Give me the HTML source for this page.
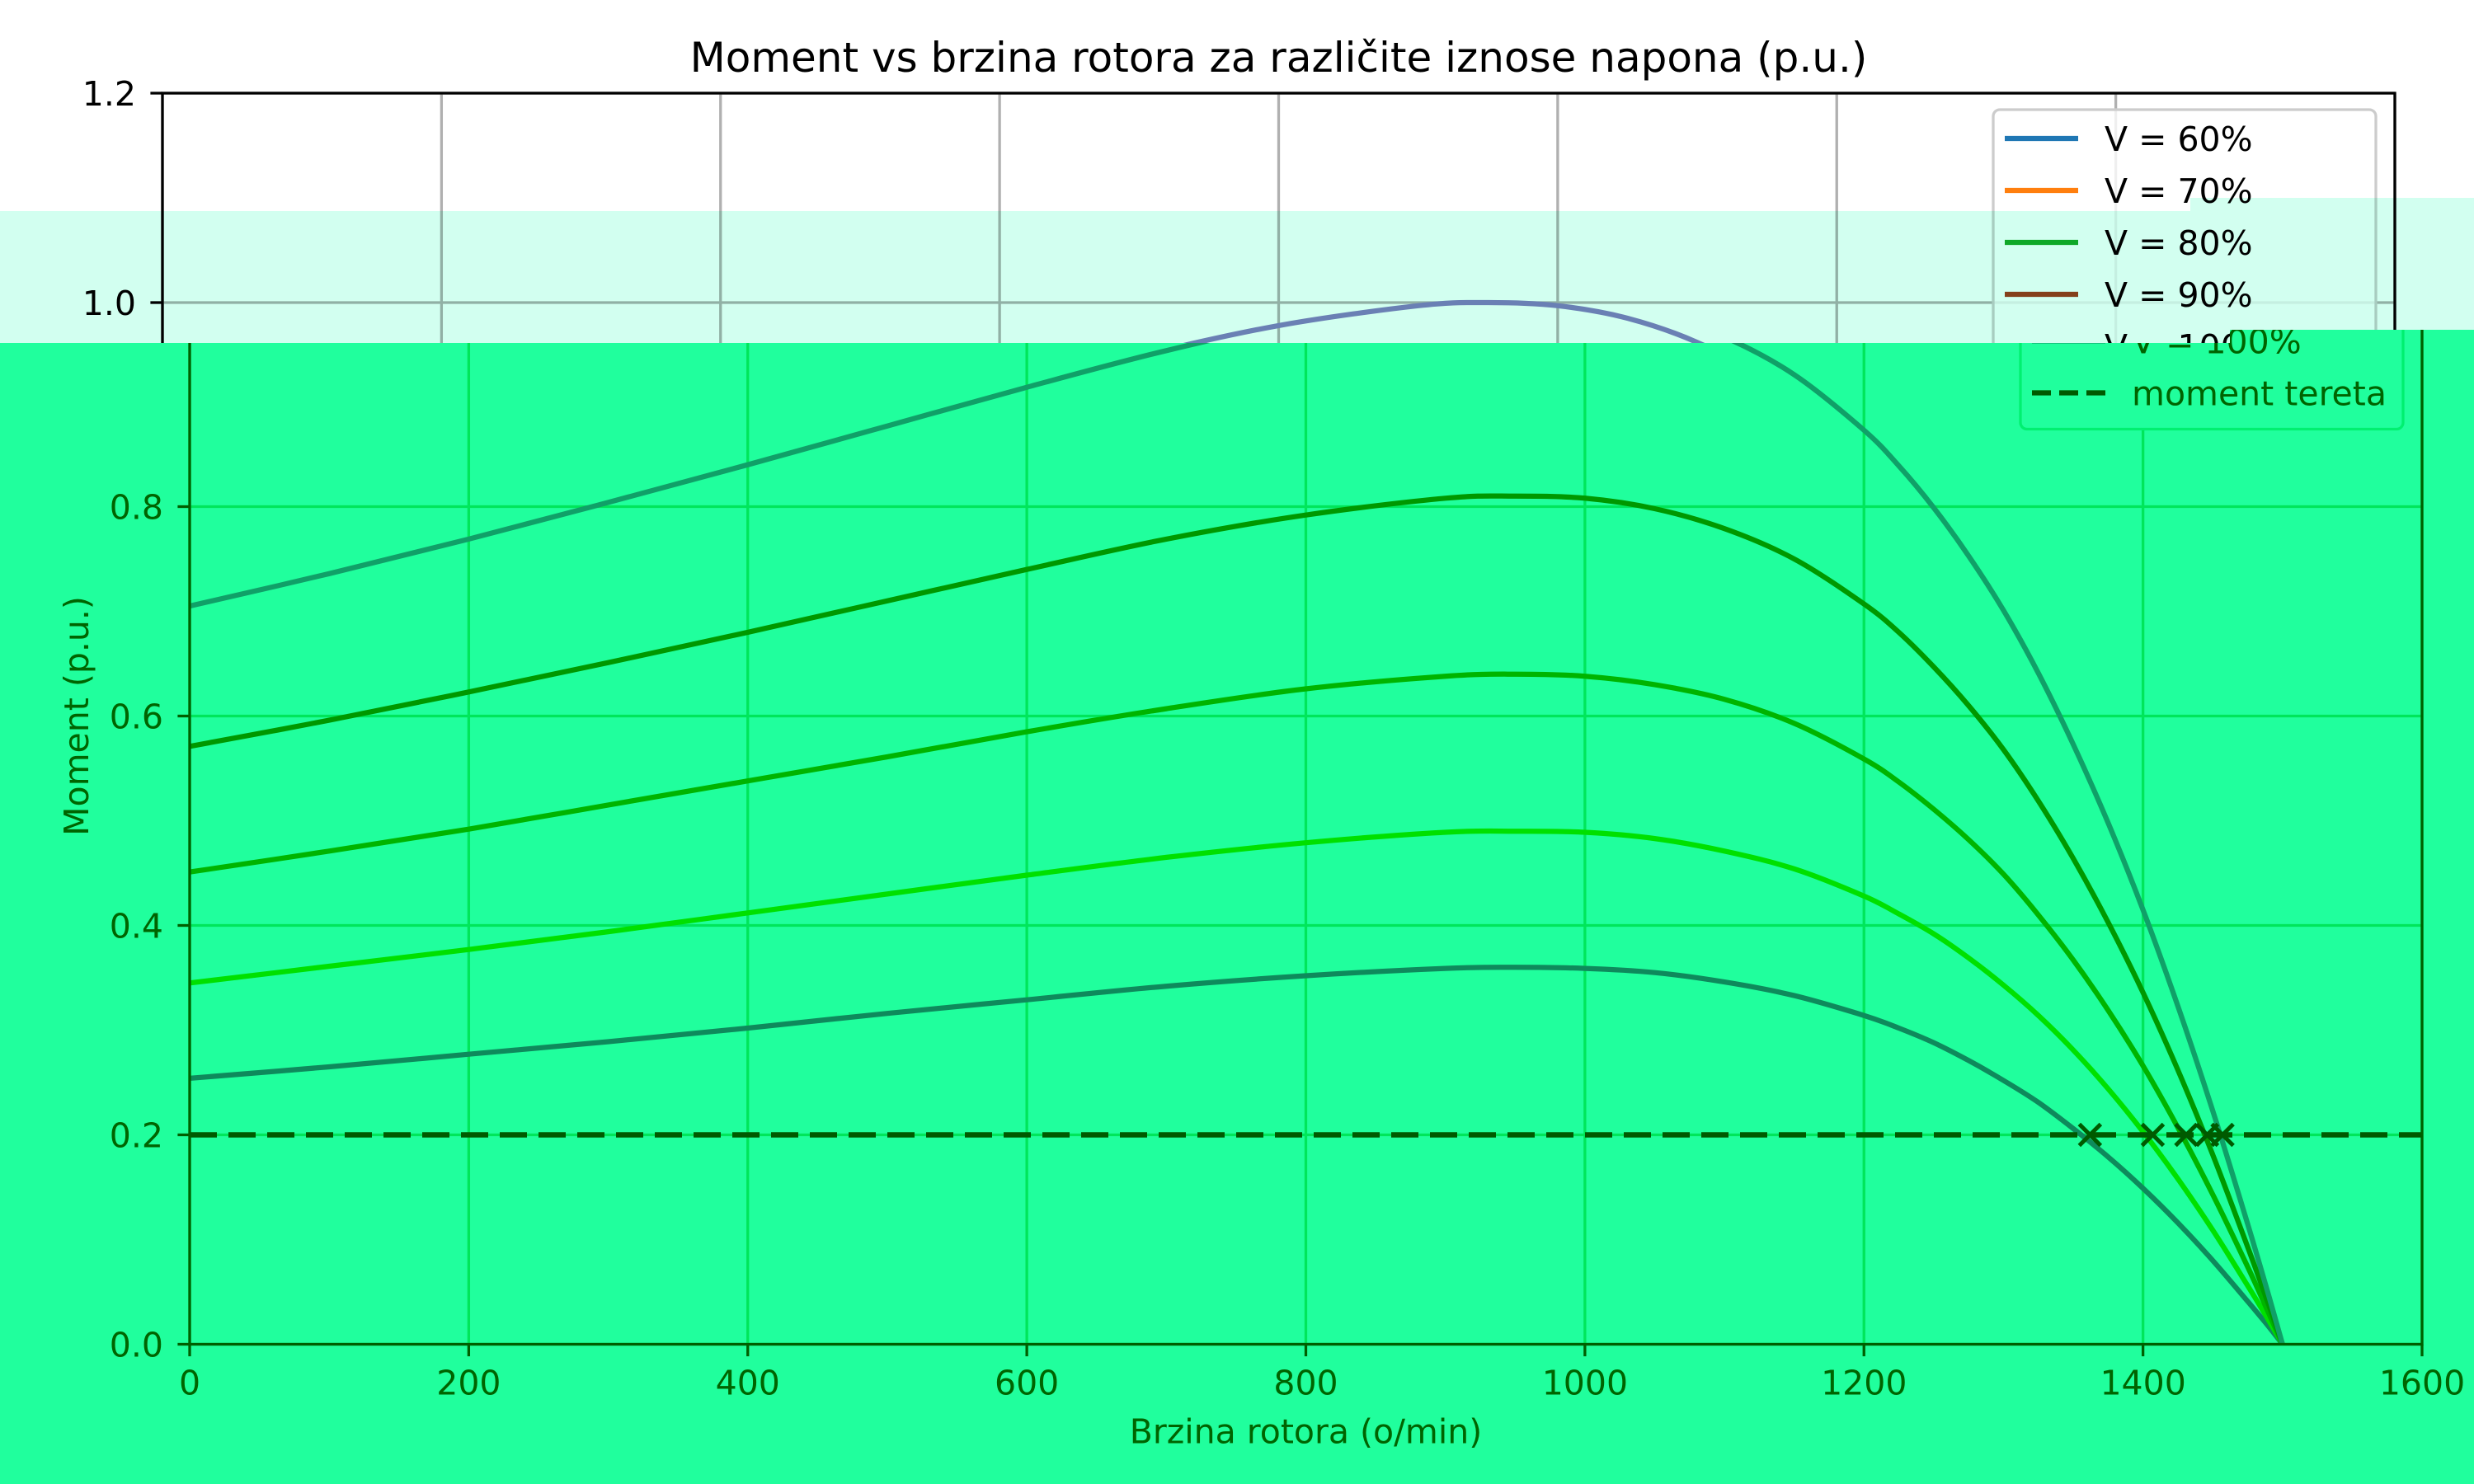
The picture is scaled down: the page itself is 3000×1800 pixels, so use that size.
<!DOCTYPE html>
<html><head><meta charset="utf-8"><style>
html,body{margin:0;padding:0;background:#fff;}
svg{display:block;font-family:"DejaVu Sans","Liberation Sans",sans-serif;}
</style></head><body>
<svg id="chart" width="3000" height="1800" viewBox="0 0 3000 1800" xmlns="http://www.w3.org/2000/svg">
<defs>
<clipPath id="clipUpper"><polygon points="0,0 3000,0 3000,400 2704,400 2704,416 0,416"/></clipPath>
<clipPath id="clipLower"><polygon points="0,416 2704,416 2704,400 3000,400 3000,1800 0,1800"/></clipPath>
<clipPath id="plotClip"><rect x="197" y="113" width="2707" height="1524"/></clipPath>
</defs>
<rect x="0" y="0" width="3000" height="1800" fill="#ffffff"/>
<g id="upper" clip-path="url(#clipUpper)"></g>
<g style="mix-blend-mode:multiply">
<rect x="0" y="256" width="2656" height="160" fill="#d2fff0"/>
<rect x="2656" y="240" width="344" height="160" fill="#d2fff0"/>
<rect x="2656" y="400" width="48" height="16" fill="#d2fff0"/>
</g>
<g clip-path="url(#clipLower)">
<rect x="0" y="0" width="3000" height="1800" fill="#20ff9d"/>
<g id="lower" transform="translate(33,-6.5)"></g>
</g>
</svg>
<script>
const speeds = [0,100,200,300,400,500,600,700,800,900,950,1000,1050,1100,1150,1200,1225,1250,1275,1300,1325,1350,1375,1400,1425,1450,1475,1490,1500];
const v100 = [0.705,0.736,0.769,0.804,0.840,0.877,0.914,0.949,0.978,0.997,1.000,0.997,0.985,0.962,0.926,0.873,0.839,0.799,0.753,0.701,0.641,0.573,0.498,0.415,0.323,0.223,0.115,0.047,0];
const v90 = [0.571,0.596,0.623,0.651,0.680,0.710,0.740,0.769,0.792,0.808,0.810,0.808,0.798,0.779,0.750,0.707,0.680,0.647,0.610,0.568,0.519,0.464,0.403,0.336,0.262,0.181,0.093,0.038,0];
const v80 = [0.451,0.471,0.492,0.515,0.538,0.561,0.585,0.607,0.626,0.638,0.640,0.638,0.630,0.616,0.593,0.559,0.537,0.511,0.482,0.449,0.410,0.367,0.319,0.266,0.207,0.143,0.074,0.030,0];
const v70 = [0.345,0.361,0.377,0.394,0.412,0.430,0.448,0.465,0.479,0.489,0.490,0.489,0.483,0.471,0.454,0.428,0.411,0.392,0.369,0.343,0.314,0.281,0.244,0.203,0.158,0.109,0.056,0.023,0];
const v60 = [0.254,0.265,0.277,0.289,0.302,0.316,0.329,0.342,0.352,0.359,0.360,0.359,0.355,0.346,0.333,0.314,0.302,0.288,0.271,0.252,0.231,0.206,0.179,0.149,0.116,0.080,0.041,0.017,0];
const seriesLabels = ["V = 60%","V = 70%","V = 80%","V = 90%","V = 100%"];
const loadTorque = 0.2;
const crossSpeeds = [1362,1407,1431,1446,1457];
const xTicks = [0,200,400,600,800,1000,1200,1400,1600];
const yTicks = [0.0,0.2,0.4,0.6,0.8,1.0,1.2];
const yTickLabels = ["0.0","0.2","0.4","0.6","0.8","1.0","1.2"];
const allSeries = [v60,v70,v80,v90,v100];

const NS = "http://www.w3.org/2000/svg";
const X0=197, X1=2904, Y0=1637, Y1=113;
function xs(v){return X0+(v-0)/(1600-0)*(X1-X0);}
function ys(v){return Y0-(v-0)/(1.2-0)*(Y0-Y1);}
function mk(tag,attrs,parent){const e=document.createElementNS(NS,tag);for(const k in attrs)e.setAttribute(k,attrs[k]);parent.appendChild(e);return e;}
function smoothPath(P){
  let d='M'+P[0][0].toFixed(1)+','+P[0][1].toFixed(1);
  for(let i=0;i<P.length-1;i++){
    const p0=P[Math.max(i-1,0)],p1=P[i],p2=P[i+1],p3=P[Math.min(i+2,P.length-1)];
    const c1=[p1[0]+(p2[0]-p0[0])/6,p1[1]+(p2[1]-p0[1])/6];
    const c2=[p2[0]-(p3[0]-p1[0])/6,p2[1]-(p3[1]-p1[1])/6];
    d+='C'+c1[0].toFixed(1)+','+c1[1].toFixed(1)+' '+c2[0].toFixed(1)+','+c2[1].toFixed(1)+' '+p2[0].toFixed(1)+','+p2[1].toFixed(1);
  }
  return d;
}

function draw(root, th){
  const FS=41;
  const grid=mk('g',{},root);
  
  
  xTicks.forEach(t=>{mk('line',{x1:xs(t),x2:xs(t),y1:Y1,y2:Y0,stroke:th.grid,'stroke-width':3.3},grid);});
  yTicks.forEach(t=>{mk('line',{x1:X0,x2:X1,y1:ys(t),y2:ys(t),stroke:th.grid,'stroke-width':3.3},grid);});
  const plot=mk('g',{'clip-path':'url(#plotClip)'},root);
  allSeries.forEach((s,i)=>{
    const P=s.map((v,j)=>[xs(speeds[j]),ys(v)]);
    const pl=mk('path',{d:smoothPath(P),fill:'none',stroke:th.series[i],'stroke-width':6.25,'stroke-linejoin':'round'},plot);
    
    
  });
  const ld=mk('line',{x1:X0,x2:X1,y1:ys(loadTorque),y2:ys(loadTorque),stroke:th.load,'stroke-width':6.5,'stroke-dasharray':'33 14'},plot);
  
  
  crossSpeeds.forEach(c=>{
    const cx=xs(c), cy=ys(loadTorque), r=13;
    const m=mk('path',{d:`M${cx-r},${cy-r}L${cx+r},${cy+r}M${cx-r},${cy+r}L${cx+r},${cy-r}`,stroke:th.load,'stroke-width':5,fill:'none'},plot);
    
    
  });
  const sp=mk('rect',{x:X0,y:Y1,width:X1-X0,height:Y0-Y1,fill:'none',stroke:th.spine,'stroke-width':3.3},root);
  
  
  xTicks.forEach(t=>{
    mk('line',{x1:xs(t),x2:xs(t),y1:Y0,y2:Y0+14.6,stroke:th.spine,'stroke-width':3.3},root);
    const tx=mk('text',{x:xs(t),y:1698,'text-anchor':'middle','font-size':FS,fill:th.text},root);
    tx.textContent=String(t);
    
    
  });
  yTicks.forEach((t,i)=>{
    mk('line',{x1:X0-14.6,x2:X0,y1:ys(t),y2:ys(t),stroke:th.spine,'stroke-width':3.3},root);
    const tx=mk('text',{x:165,y:ys(t)+15,'text-anchor':'end','font-size':FS,fill:th.text},root);
    tx.textContent=yTickLabels[i];
    
    
  });
  const xl=mk('text',{x:(X0+X1)/2,y:1757,'text-anchor':'middle','font-size':FS,fill:th.text},root);
  xl.textContent='Brzina rotora (o/min)';
  
  
  const yl=mk('text',{x:0,y:0,'text-anchor':'middle','font-size':FS,fill:th.text,transform:'translate(74,875) rotate(-90)'},root);
  yl.textContent='Moment (p.u.)';
  
  
  const ti=mk('text',{x:(X0+X1)/2,y:87,'text-anchor':'middle','font-size':50,fill:th.text},root);
  ti.textContent='Moment vs brzina rotora za različite iznose napona (p.u.)';
  
  
  const lg=mk('g',{},root);
  
  
  mk('rect',{x:2417,y:133,width:464,height:394,rx:8,fill:th.legendBg,'fill-opacity':th.legendOp,stroke:th.legendEdge,'stroke-width':3.3},lg);
  const labels=seriesLabels.concat(['moment tereta']);
  labels.forEach((lab,i)=>{
    const y=168+i*63;
    const col=i<5?th.series[i]:th.load;
    const ln=mk('line',{x1:2431,x2:2520,y1:y,y2:y,stroke:col,'stroke-width':6.25},lg);
    if(i==5) ln.setAttribute('stroke-dasharray','23 10');
    const tx=mk('text',{x:2552,y:y+15,'font-size':FS,fill:th.text},lg);
    tx.textContent=lab;
    
    
  });
}
draw(document.getElementById('upper'),{grid:'#b0b0b0',spine:'#000000',text:'#000000',series:['#1f77b4','#ff7f0e','#12a82a','#a0401c','#8180bf'],load:'#000000',legendBg:'#ffffff',legendOp:0.8,legendEdge:'#cccccc'});
draw(document.getElementById('lower'),{grid:'#00e65a',spine:'#005f00',text:'#006400',series:['#0e8a5c','#00e000','#00b400','#009800','#10a068'],load:'#005a00',legendBg:'#20ff9d',legendOp:1,legendEdge:'#00f070'});
</script>
</body></html>
